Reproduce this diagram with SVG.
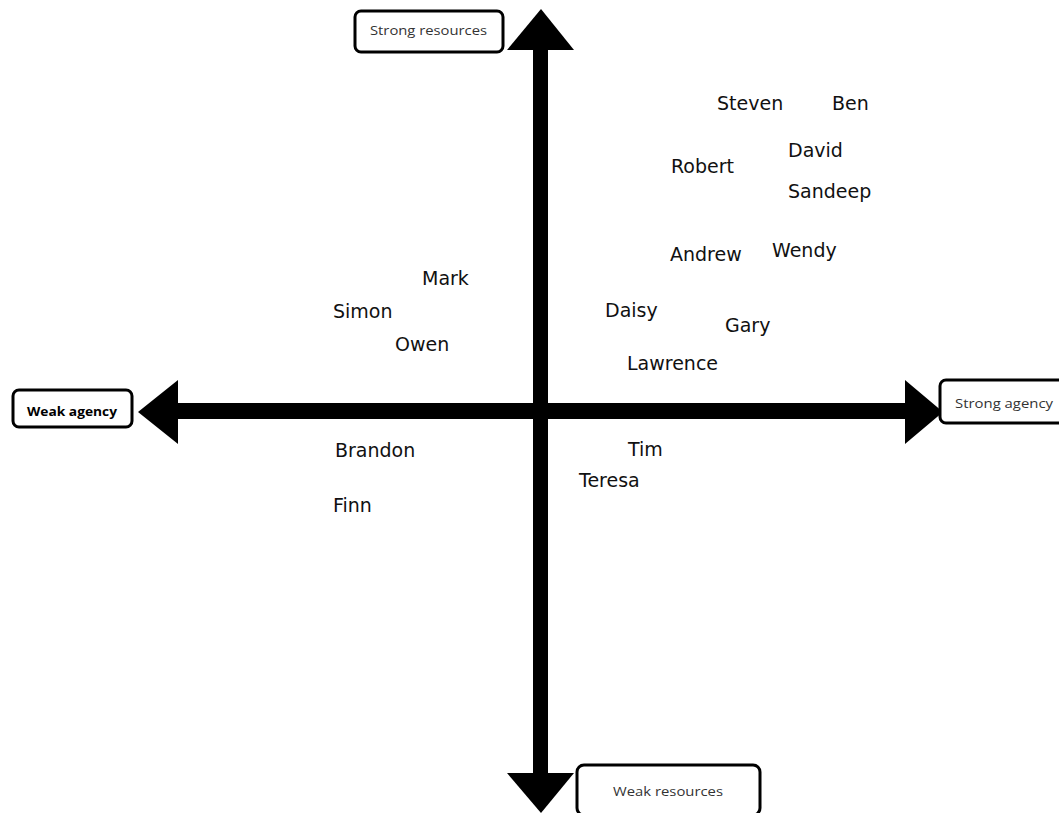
<svg xmlns="http://www.w3.org/2000/svg" width="1059" height="813" viewBox="0 0 1059 813">
<style>
.name{font-family:"DejaVu Sans",Verdana,sans-serif;font-size:19px;fill:#111}
.lbl{font-family:"Open Sans","Liberation Sans",sans-serif;font-size:13px;fill:#333}
.box{fill:#fff;stroke:#000;stroke-width:3}
</style>
<rect width="1059" height="813" fill="#fff"/>
<g id="axes">
<rect x="533" y="48" width="15" height="727" fill="#000"/>
<rect x="175" y="403" width="732" height="16" fill="#000"/>
<polygon points="541,9 507,50 574,50" fill="#000"/>
<polygon points="541,813 507,773 574,773" fill="#000"/>
<polygon points="138,412 178,380 178,444" fill="#000"/>
<polygon points="943,412 905,380 905,444" fill="#000"/>
</g>
<g id="strong-resources"><rect class="box" x="355" y="11" width="148" height="41" rx="6"/><text class="lbl" x="370" y="35" textLength="117" lengthAdjust="spacingAndGlyphs">Strong resources</text></g>
<g id="weak-resources"><rect class="box" x="577" y="765" width="183" height="50" rx="7"/><text class="lbl" x="613" y="796" textLength="110" lengthAdjust="spacingAndGlyphs">Weak resources</text></g>
<g id="weak-agency"><rect class="box" x="13" y="390" width="119" height="37" rx="6"/><text class="lbl" x="27" y="416" textLength="90" lengthAdjust="spacingAndGlyphs" style="font-weight:bold;fill:#000">Weak agency</text></g>
<g id="strong-agency"><rect class="box" x="940" y="380" width="125" height="43" rx="6"/><text class="lbl" x="955" y="408" textLength="98" lengthAdjust="spacingAndGlyphs">Strong agency</text></g>
<g id="names">
<text class="name" x="717" y="110">Steven</text>
<text class="name" x="832" y="110">Ben</text>
<text class="name" x="788" y="157">David</text>
<text class="name" x="671" y="173">Robert</text>
<text class="name" x="788" y="198">Sandeep</text>
<text class="name" x="670" y="261">Andrew</text>
<text class="name" x="772" y="257">Wendy</text>
<text class="name" x="422" y="285">Mark</text>
<text class="name" x="333" y="318">Simon</text>
<text class="name" x="395" y="351">Owen</text>
<text class="name" x="605" y="317">Daisy</text>
<text class="name" x="725" y="332">Gary</text>
<text class="name" x="627" y="370">Lawrence</text>
<text class="name" x="335" y="457">Brandon</text>
<text class="name" x="333" y="512">Finn</text>
<text class="name" x="628" y="456">Tim</text>
<text class="name" x="579" y="487">Teresa</text>
</g>
</svg>
